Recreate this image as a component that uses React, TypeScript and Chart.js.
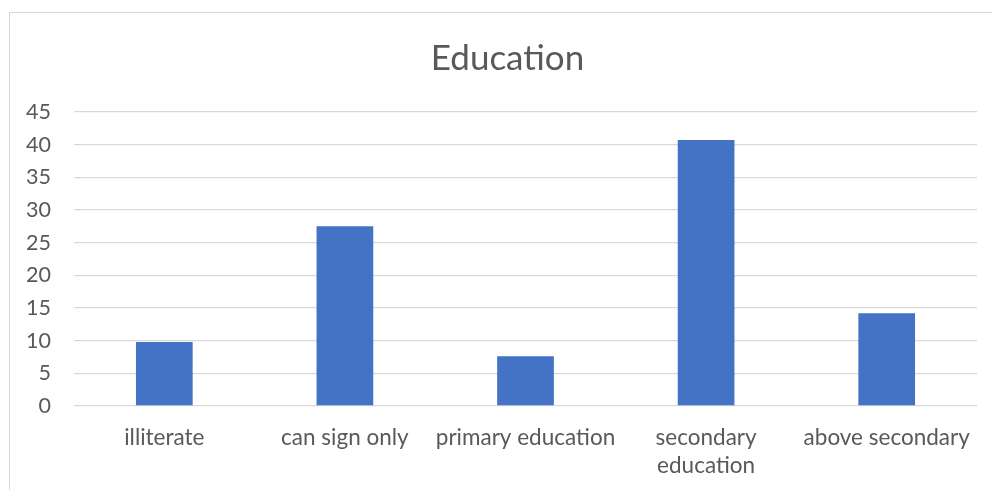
import React, { useEffect, useRef } from "react";
import { Chart, registerables } from "chart.js";

Chart.register(...registerables);

const categories: (string | string[])[] = [
  "illiterate",
  "can sign only",
  "primary education",
  ["secondary", "education"],
  "above secondary",
];
const shares: number[] = [9.8, 27.5, 7.6, 40.7, 14.2];
const yTicks: number[] = [0, 5, 10, 15, 20, 25, 30, 35, 40, 45];

const FONT = "Lato, 'Open Sans', sans-serif";
const TEXT = "#595959";
const GRID = "#d9d9d9";

// Centre the title over the framed area rather than over the whole canvas.
const titleCentring = {
  id: "titleCentring",
  afterLayout(chart: any) {
    const t = chart.titleBlock;
    if (t) {
      t.left = 38;
      t.right = 977;
      t.width = t.right - t.left;
    }
  },
};

export default function App() {
  const ref = useRef<HTMLCanvasElement | null>(null);

  useEffect(() => {
    if (!ref.current) return;
    const chart = new Chart(ref.current, {
      type: "bar",
      data: {
        labels: categories,
        datasets: [
          {
            label: "Education",
            data: shares,
            backgroundColor: "#4472C4",
            borderWidth: 0,
            barPercentage: 0.314,
            categoryPercentage: 1,
          },
        ],
      },
      options: {
        responsive: false,
        animation: false,
        layout: { padding: { left: 0, right: 15, top: 0, bottom: 0 } },
        plugins: {
          legend: { display: false },
          tooltip: { enabled: false },
          title: {
            display: true,
            text: "Education",
            color: TEXT,
            font: { family: FONT, size: 35, weight: "normal" },
            padding: { top: 38, bottom: 32 },
          },
        },
        scales: {
          x: {
            grid: { display: false, drawTicks: false },
            border: { display: false },
            ticks: {
              color: TEXT,
              font: { family: FONT, size: 22.5, lineHeight: 1.245 },
              padding: 18,
              maxRotation: 0,
              autoSkip: false,
            },
            afterFit: (scale: any) => {
              scale.height = 84;
            },
          },
          y: {
            min: 0,
            max: 45,
            afterBuildTicks: (scale: any) => {
              scale.ticks = yTicks.map((v) => ({ value: v }));
            },
            grid: { color: GRID, lineWidth: 1.3, drawTicks: false },
            border: { display: false },
            ticks: {
              color: TEXT,
              font: { family: FONT, size: 21.5 },
              padding: 23,
            },
            afterFit: (scale: any) => {
              scale.width = 74;
            },
          },
        },
      },
      plugins: [titleCentring],
    });
    return () => chart.destroy();
  }, []);

  return (
    <div
      style={{
        position: "fixed",
        left: 0,
        top: 0,
        width: 992,
        height: 490,
        overflow: "hidden",
        background: "#ffffff",
      }}
    >
      <div
        style={{
          position: "absolute",
          left: 9,
          top: 12,
          width: 1000,
          height: 500,
          border: `1.5px solid ${GRID}`,
        }}
      />
      <canvas
        ref={ref}
        width={992}
        height={490}
        style={{ position: "absolute", left: 0, top: 0 }}
      />
    </div>
  );
}
